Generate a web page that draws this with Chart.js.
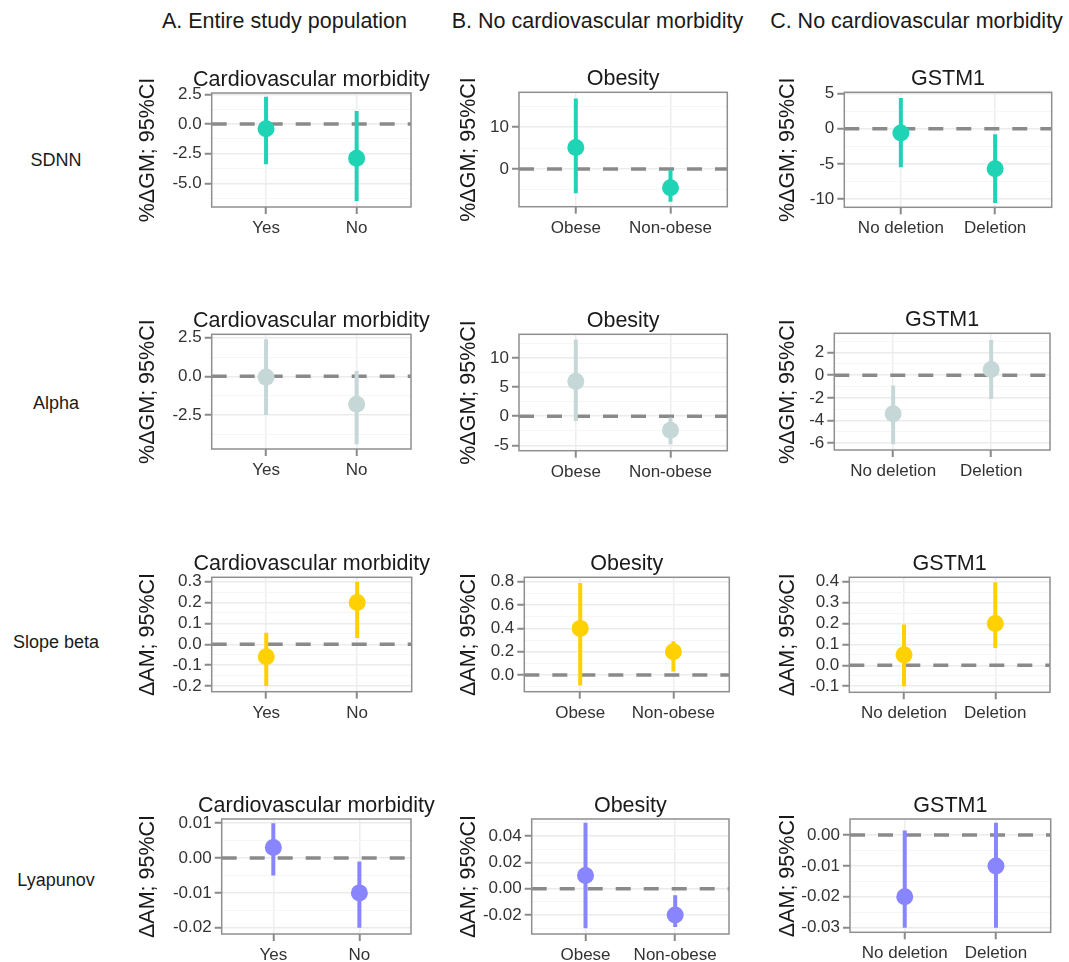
<!DOCTYPE html>
<html><head><meta charset="utf-8">
<script src="https://cdn.jsdelivr.net/npm/chart.js@4/dist/chart.umd.min.js"></script>
<style>
html,body{margin:0;padding:0;width:1069px;height:962px;overflow:hidden;background:#fff;}
canvas{position:absolute;}
.lbl{position:absolute;font-family:"Liberation Sans",Arial,Helvetica,sans-serif;color:#1a1a1a;white-space:nowrap;line-height:1;}
</style></head><body>
<script>
// ---------------- DATA ----------------
const rowNames = ["SDNN", "Alpha", "Slope beta", "Lyapunov"];
const columnHeaders = ["A. Entire study population", "B. No cardiovascular morbidity", "C. No cardiovascular morbidity"];
const panelTitles = ["Cardiovascular morbidity", "Obesity", "GSTM1"];
const categoriesA = ["Yes", "No"];
const categoriesB = ["Obese", "Non-obese"];
const categoriesC = ["No deletion", "Deletion"];
const yTitleGM = "%ΔGM; 95%CI";
const yTitleAM = "ΔAM; 95%CI";

// estimate, lower CI, upper CI, y tick labels
const sdnnA_est = [-0.4, -2.9],  sdnnA_lo = [-3.4, -6.5],   sdnnA_hi = [2.3, 1.1],   sdnnA_ticks = ["-5.0", "-2.5", "0.0", "2.5"];
const sdnnB_est = [5.1, -4.5],   sdnnB_lo = [-5.8, -7.8],   sdnnB_hi = [16.8, -0.2], sdnnB_ticks = ["0", "10"];
const sdnnC_est = [-0.6, -5.7],  sdnnC_lo = [-5.5, -10.6],  sdnnC_hi = [4.4, -0.8],  sdnnC_ticks = ["-10", "-5", "0", "5"];

const alphaA_est = [-0.05, -1.8], alphaA_lo = [-2.5, -4.4], alphaA_hi = [2.4, 0.35],  alphaA_ticks = ["-2.5", "0.0", "2.5"];
const alphaB_est = [6.0, -2.4],   alphaB_lo = [-0.8, -4.8], alphaB_hi = [13.2, -0.2], alphaB_ticks = ["-5", "0", "5", "10"];
const alphaC_est = [-3.4, 0.5],   alphaC_lo = [-6.1, -2.1], alphaC_hi = [-0.9, 3.1],  alphaC_ticks = ["-6", "-4", "-2", "0", "2"];

const slopeA_est = [-0.06, 0.2], slopeA_lo = [-0.2, 0.03],  slopeA_hi = [0.055, 0.3],  slopeA_ticks = ["-0.2", "-0.1", "0.0", "0.1", "0.2", "0.3"];
const slopeB_est = [0.4, 0.2],   slopeB_lo = [-0.09, 0.03], slopeB_hi = [0.79, 0.29],  slopeB_ticks = ["0.0", "0.2", "0.4", "0.6", "0.8"];
const slopeC_est = [0.05, 0.2],  slopeC_lo = [-0.1, 0.083], slopeC_hi = [0.195, 0.397], slopeC_ticks = ["-0.1", "0.0", "0.1", "0.2", "0.3", "0.4"];

const lyapA_est = [0.003, -0.01], lyapA_lo = [-0.005, -0.02], lyapA_hi = [0.01, -0.001],  lyapA_ticks = ["-0.02", "-0.01", "0.00", "0.01"];
const lyapB_est = [0.01, -0.02],  lyapB_lo = [-0.03, -0.029], lyapB_hi = [0.05, -0.005],  lyapB_ticks = ["-0.02", "0.00", "0.02", "0.04"];
const lyapC_est = [-0.02, -0.01], lyapC_lo = [-0.03, -0.03],  lyapC_hi = [0.0015, 0.004], lyapC_ticks = ["-0.03", "-0.02", "-0.01", "0.00"];

const referenceValue = 0;

// ---------------- STYLE / LAYOUT ----------------
const FONT = '"Liberation Sans", Arial, Helvetica, sans-serif';
Chart.defaults.font.family = FONT;
const rowColors = ["#1fd3b5", "#c5d8d7", "#ffd100", "#8885ff"];
const rowYTitles = [yTitleGM, yTitleGM, yTitleAM, yTitleAM];
const columnCats = [categoriesA, categoriesB, categoriesC];

const rowData = [
  [[sdnnA_est, sdnnA_lo, sdnnA_hi, sdnnA_ticks], [sdnnB_est, sdnnB_lo, sdnnB_hi, sdnnB_ticks], [sdnnC_est, sdnnC_lo, sdnnC_hi, sdnnC_ticks]],
  [[alphaA_est, alphaA_lo, alphaA_hi, alphaA_ticks], [alphaB_est, alphaB_lo, alphaB_hi, alphaB_ticks], [alphaC_est, alphaC_lo, alphaC_hi, alphaC_ticks]],
  [[slopeA_est, slopeA_lo, slopeA_hi, slopeA_ticks], [slopeB_est, slopeB_lo, slopeB_hi, slopeB_ticks], [slopeC_est, slopeC_lo, slopeC_hi, slopeC_ticks]],
  [[lyapA_est, lyapA_lo, lyapA_hi, lyapA_ticks], [lyapB_est, lyapB_lo, lyapB_hi, lyapB_ticks], [lyapC_est, lyapC_lo, lyapC_hi, lyapC_ticks]]
];

// plot-area boxes [left, top, right, bottom] and y limits per panel
const plotBoxes = [
  [[211.7, 93, 411, 207], [519, 92.3, 727.3, 206.7], [844.3, 92.3, 1051.7, 207.3]],
  [[211.7, 334.3, 411, 449], [519, 334.3, 727.3, 450.7], [834.3, 333.3, 1050, 450]],
  [[211.7, 577.3, 411.7, 691.7], [524.3, 577.3, 729.3, 691.7], [849.3, 577.3, 1050, 692.3]],
  [[221.7, 819, 411, 934], [531.7, 819, 729, 934], [850, 819, 1050.7, 932.3]]
];
const yLimits = [
  [[-7.0, 2.61], [-9.0, 18.3], [-11.2, 5.2]],
  [[-4.7, 2.72], [-5.93, 14.1], [-6.6, 3.7]],
  [[-0.227, 0.321], [-0.143, 0.838], [-0.129, 0.421]],
  [[-0.0218, 0.0112], [-0.0344, 0.0529], [-0.0315, 0.0052]]
];
const X_MIN = 0.4, X_MAX = 2.6;
const yTitleCenters = [148, 469, 788];
const padRights = [32, 14, 14];
const TITLE_SIZE = 21.5, TICK_SIZE = 17;

// ---------------- PLUGINS ----------------
const panelTitle = {
  id: 'panelTitle',
  afterDraw(chart, args, opts) {
    const {ctx, chartArea} = chart;
    ctx.save();
    ctx.font = TITLE_SIZE + 'px ' + FONT;
    ctx.fillStyle = '#1a1a1a';
    ctx.textAlign = 'center';
    ctx.textBaseline = 'alphabetic';
    ctx.fillText(opts.text, (chartArea.left + chartArea.right) / 2, chartArea.top - 7);
    ctx.restore();
  }
};
const panelFrame = {
  id: 'panelFrame',
  afterDatasetsDraw(chart) {
    const {ctx, chartArea: a} = chart;
    ctx.save();
    ctx.strokeStyle = '#8f8f8f';
    ctx.lineWidth = 1.5;
    ctx.strokeRect(a.left, a.top, a.right - a.left, a.bottom - a.top);
    ctx.restore();
  }
};

// ---------------- BUILD ----------------
function addLabel(text, cx, cy, size) {
  const d = document.createElement('div');
  d.className = 'lbl';
  d.textContent = text;
  d.style.fontSize = size + 'px';
  d.style.left = cx + 'px';
  d.style.top = (cy - size / 2) + 'px';
  d.style.transform = 'translateX(-50%)';
  document.body.appendChild(d);
}
const headerCenters = [284.5, 597.5, 916.5];
columnHeaders.forEach((t, i) => addLabel(t, headerCenters[i], 22, 21.5));
const rowLabelCenters = [160, 403, 642, 880];
rowNames.forEach((t, i) => addLabel(t, 56, rowLabelCenters[i], 18));

function makePanel(r, c) {
  const [est, lo, hi, tickLabels] = rowData[r][c];
  const cats = columnCats[c];
  const color = rowColors[r];
  const [L, T, R, B] = plotBoxes[r][c];
  const [ymin, ymax] = yLimits[r][c];
  const major = tickLabels.map(Number);
  const step = major.length > 1 ? major[1] - major[0] : 1;
  let m = major[0] - step / 2;
  while (m - step >= ymin) m -= step;
  const minor = [];
  for (; m <= ymax + 1e-12; m += step) if (m >= ymin) minor.push(m);
  const allTicks = major.concat(minor).sort((a, b) => a - b);
  const tol = Math.abs(step) * 1e-6;
  const isMajor = v => major.some(x => Math.abs(x - v) < tol);
  const labelFor = v => { const i = major.findIndex(x => Math.abs(x - v) < tol); return i >= 0 ? tickLabels[i] : ''; };

  const cLeft = Math.round(yTitleCenters[c] - TITLE_SIZE * 1.2 / 2);
  const cTop = Math.round(T - 34);
  const xH = 32;
  const cRight = Math.min(1069, Math.round(R + padRights[c]));
  const cBottom = Math.round(B + xH);
  const cv = document.createElement('canvas');
  cv.width = cRight - cLeft; cv.height = cBottom - cTop;
  cv.style.left = cLeft + 'px'; cv.style.top = cTop + 'px';
  document.body.appendChild(cv);
  const yW = L - cLeft;
  const padTop = T - cTop;
  const padRight = cRight - R;
  const padBottom = cBottom - B - xH;

  const datasets = [];
  datasets.push({
    data: [{x: X_MIN, y: referenceValue}, {x: X_MAX, y: referenceValue}],
    showLine: true, borderColor: '#8a8a8a', borderWidth: 3.5, borderDash: [15, 13],
    pointRadius: 0, order: 3
  });
  cats.forEach((cat, i) => {
    datasets.push({
      data: [{x: i + 1, y: lo[i]}, {x: i + 1, y: hi[i]}],
      showLine: true, borderColor: color, borderWidth: 4, pointRadius: 0, order: 2
    });
  });
  datasets.push({
    data: est.map((v, i) => ({x: i + 1, y: v})),
    showLine: false, pointRadius: 8.5, pointBackgroundColor: color, backgroundColor: color,
    pointBorderWidth: 0, borderColor: color, order: 1
  });

  new Chart(cv, {
    type: 'scatter',
    data: {datasets},
    options: {
      responsive: false, animation: false, events: [],
      layout: {padding: {left: 0, top: padTop, right: padRight, bottom: padBottom}},
      plugins: {legend: {display: false}, tooltip: {enabled: false}, panelTitle: {text: panelTitles[c]}},
      scales: {
        x: {
          type: 'linear', min: X_MIN, max: X_MAX,
          afterBuildTicks: ax => { ax.ticks = cats.map((_, i) => ({value: i + 1})); },
          afterFit: ax => { ax.height = xH; },
          ticks: {callback: v => cats[Math.round(v) - 1] || '', font: {size: TICK_SIZE}, color: '#333',
                  padding: 4, maxRotation: 0, autoSkip: false},
          grid: {color: '#eeeeee', lineWidth: 1.5, tickLength: 7, tickColor: '#8a8a8a', tickWidth: 2},
          border: {display: false}
        },
        y: {
          type: 'linear', min: ymin, max: ymax,
          afterBuildTicks: ax => { ax.ticks = allTicks.map(v => ({value: v})); },
          afterFit: ax => { ax.width = yW; },
          ticks: {callback: v => labelFor(v), font: {size: TICK_SIZE}, color: '#333',
                  padding: 3, autoSkip: false, maxRotation: 0},
          grid: {
            color: ctx => (ctx.tick && isMajor(ctx.tick.value)) ? '#ebebeb' : '#f6f6f6',
            lineWidth: ctx => (ctx.tick && isMajor(ctx.tick.value)) ? 1.5 : 1,
            tickLength: 7,
            tickColor: ctx => (ctx.tick && isMajor(ctx.tick.value)) ? '#8a8a8a' : 'rgba(0,0,0,0)',
            tickWidth: 2
          },
          border: {display: false},
          title: {display: true, text: rowYTitles[r], font: {size: TITLE_SIZE}, color: '#1a1a1a', padding: 0}
        }
      }
    },
    plugins: [panelTitle, panelFrame]
  });
}
for (let r = 0; r < 4; r++) for (let c = 0; c < 3; c++) makePanel(r, c);
</script>
</body></html>
